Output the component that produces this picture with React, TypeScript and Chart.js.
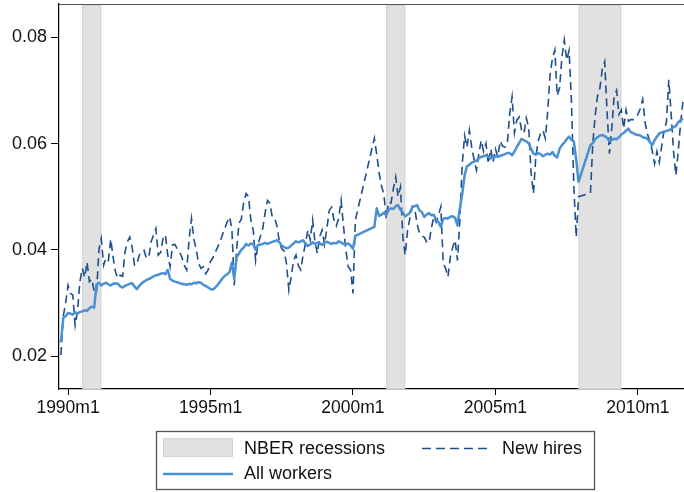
import { useEffect, useRef } from 'react';
import { Chart, registerables } from 'chart.js';

Chart.register(...registerables);

// Months are counted from 1990m1 (= 0); the series start in 1989m10.
const FIRST_MONTH = -3;

// Separation rate of newly hired workers, monthly (null = no observation)
const newHires: (number | null)[] = [
  0.0202, 0.0275, 0.0300,
  0.0333, 0.0318, 0.0315, 0.0258, 0.0285, 0.0340, 0.0365, 0.0348, 0.0377, 0.0340, 0.0345, 0.0322,
  0.0318, 0.0400, 0.0421, 0.0371, 0.0385, 0.0380, 0.0420, 0.0385, 0.0358, 0.0346, 0.0352, 0.0350,
  0.0396, 0.0415, 0.0424, 0.0405, 0.0371, 0.0373, 0.0390, 0.0395, 0.0399, 0.0384, 0.0386, 0.0415,
  0.0428, 0.0440, 0.0390, 0.0395, 0.0421, 0.0428, 0.0390, 0.0368, 0.0409, 0.0410, 0.0402, 0.0396,
  0.0385, 0.0370, 0.0362, 0.0420, 0.0459, 0.0420, 0.0400, 0.0374, 0.0365, 0.0368, 0.0355, 0.0362,
  0.0378, 0.0385, 0.0395, 0.0405, 0.0415, 0.0428, 0.0440, 0.0452, 0.0462, 0.0440, 0.0333, 0.0400,
  0.0450, 0.0458, 0.0490, 0.0506, 0.0500, 0.0456, 0.0437, 0.0380, 0.0410, 0.0425, 0.0440, 0.0470,
  0.0493, 0.0488, 0.0462, 0.0460, 0.0445, 0.0415, 0.0402, 0.0398, 0.0374, 0.0324, 0.0350, 0.0380,
  0.0390, 0.0370, 0.0362, 0.0390, 0.0412, 0.0437, 0.0418, 0.0456, 0.0415, 0.0393, 0.0425, 0.0437,
  0.0410, 0.0440, 0.0474, 0.0480, 0.0456, 0.0445, 0.0460, 0.0493, 0.0445, 0.0399, 0.0368, 0.0362,
  0.0318, 0.0456, null, null, null, null, null, null, null, 0.0610, 0.0580, 0.0545,
  0.0520, 0.0505, 0.0459, 0.0490, 0.0488, 0.0515, 0.0537, 0.0500, 0.0518, 0.0424, 0.0390, 0.0437,
  0.0460, 0.0482, 0.0478, 0.0449, 0.0431, 0.0426, 0.0424, 0.0415, 0.0413, 0.0440, 0.0462, 0.0452,
  0.0465, 0.0481, 0.0374, 0.0365, 0.0349, 0.0386, 0.0405, 0.0418, 0.0380, 0.0456, 0.0560, 0.0615,
  0.0593, 0.0625, 0.0593, 0.0570, 0.0550, 0.0580, 0.0606, 0.0585, 0.0600, 0.0562, 0.0590, 0.0565,
  0.0590, 0.0575, 0.0605, 0.0595, 0.0593, 0.0600, 0.0656, 0.0688, 0.0620, 0.0644, 0.0650, 0.0625,
  0.0619, 0.0648, 0.0630, 0.0545, 0.0506, 0.0575, 0.0605, 0.0619, 0.0625, 0.0610, 0.0660, 0.0730,
  0.0760, 0.0776, 0.0690, 0.0705, 0.0763, 0.0795, 0.0757, 0.0775, 0.0680, 0.0520, 0.0424, 0.0500,
  null, null, null, null, 0.0507, 0.0600, 0.0653, 0.0690, 0.0705, 0.0740, 0.0754, 0.0660,
  0.0581, 0.0630, 0.0690, 0.0700, 0.0655, 0.0663, 0.0628, 0.0663, 0.0642, 0.0645, 0.0645, 0.0648,
  0.0655, 0.0666, 0.0683, 0.0640, 0.0618, 0.0605, 0.0587, 0.0562, 0.0585, 0.0565, 0.0595, 0.0625,
  0.0640, 0.0720, 0.0655, 0.0585, 0.0540, 0.0587, 0.0640, 0.0680,
];

// Separation rate of all workers, monthly (null = no observation)
const allWorkers: (number | null)[] = [
  0.0225, 0.0272, 0.0275,
  0.0281, 0.0280, 0.0278, 0.0282, 0.0280, 0.0283, 0.0284, 0.0286, 0.0285, 0.0290, 0.0293, 0.0291,
  0.0335, 0.0338, 0.0333, 0.0336, 0.0338, 0.0335, 0.0333, 0.0336, 0.0337, 0.0336, 0.0331, 0.0329,
  0.0332, 0.0334, 0.0336, 0.0337, 0.0331, 0.0326, 0.0332, 0.0337, 0.0340, 0.0343, 0.0345, 0.0347,
  0.0350, 0.0352, 0.0353, 0.0355, 0.0356, 0.0354, 0.0362, 0.0345, 0.0342, 0.0340, 0.0339, 0.0337,
  0.0336, 0.0335, 0.0334, 0.0336, 0.0335, 0.0338, 0.0337, 0.0339, 0.0338, 0.0334, 0.0332, 0.0329,
  0.0326, 0.0325, 0.0329, 0.0334, 0.0340, 0.0346, 0.0351, 0.0354, 0.0358, 0.0376, 0.0345, 0.0386,
  0.0393, 0.0400, 0.0404, 0.0411, 0.0408, 0.0412, 0.0410, 0.0400, 0.0409, 0.0410, 0.0411, 0.0413,
  0.0411, 0.0413, 0.0415, 0.0416, 0.0418, 0.0414, 0.0408, 0.0405, 0.0403, 0.0404, 0.0408, 0.0412,
  0.0416, 0.0414, 0.0416, 0.0418, 0.0412, 0.0407, 0.0410, 0.0414, 0.0411, 0.0413, 0.0412, 0.0409,
  0.0414, 0.0415, 0.0413, 0.0411, 0.0413, 0.0412, 0.0416, 0.0414, 0.0411, 0.0410, 0.0412, 0.0408,
  0.0402, 0.0426, null, null, null, null, null, null, null, 0.0443, 0.0478, 0.0464,
  0.0466, 0.0470, 0.0465, 0.0475, 0.0478, 0.0477, 0.0482, 0.0484, 0.0475, 0.0470, 0.0463, 0.0466,
  0.0470, 0.0480, 0.0482, 0.0484, 0.0474, 0.0471, 0.0462, 0.0466, 0.0469, 0.0465, 0.0466, 0.0456,
  0.0452, 0.0443, 0.0458, 0.0460, 0.0459, 0.0462, 0.0463, 0.0460, 0.0446, 0.0478, 0.0505, 0.0540,
  0.0557, 0.0560, 0.0564, 0.0566, 0.0568, 0.0572, 0.0575, 0.0576, 0.0578, 0.0575, 0.0572, 0.0574,
  0.0576, 0.0575, 0.0577, 0.0578, 0.0580, 0.0582, 0.0582, 0.0578, 0.0585, 0.0594, 0.0601, 0.0609,
  0.0606, 0.0604, 0.0600, 0.0590, 0.0581, 0.0579, 0.0582, 0.0580, 0.0576, 0.0579, 0.0581, 0.0579,
  0.0584, 0.0577, 0.0574, 0.0590, 0.0597, 0.0602, 0.0608, 0.0613, 0.0607, 0.0604, 0.0570, 0.0528,
  null, null, null, null, 0.0597, 0.0601, 0.0608, 0.0612, 0.0615, 0.0616, 0.0614, 0.0611,
  0.0604, 0.0607, 0.0609, 0.0608, 0.0612, 0.0617, 0.0620, 0.0624, 0.0628, 0.0621, 0.0620, 0.0617,
  0.0616, 0.0615, 0.0612, 0.0611, 0.0609, 0.0603, 0.0597, 0.0606, 0.0613, 0.0619, 0.0621, 0.0622,
  0.0624, 0.0625, 0.0627, 0.0631, 0.0633, 0.0640, 0.0644, 0.0647,
];

// NBER recession periods, [first month, last month] counted from 1990m1
const recessions: [number, number][] = [
  [6, 14],    // 1990m7 - 1991m3
  [134, 142], // 2001m3 - 2001m11
  [215, 233], // 2007m12 - 2009m6
];

const xTickMonths = [0, 60, 120, 180, 240];
const xTickLabels = ['1990m1', '1995m1', '2000m1', '2005m1', '2010m1'];
const yTickValues = [0.02, 0.04, 0.06, 0.08];
const yTickLabels = ['0.02', '0.04', '0.06', '0.08'];

const legendLabels = ['NBER recessions', 'New hires', 'All workers'];

const FONT = '"Liberation Sans", Arial, sans-serif';
const SOLID_COLOR = '#4a90d2';
const DASH_COLOR = '#1d4f8c';
const SHADE_FILL = '#e1e1e1';
const SHADE_EDGE = '#d3d3d3';

const toPoints = (series: (number | null)[]) =>
  series.map((v, i) => ({ x: FIRST_MONTH + i, y: v }));

const recessionPlugin = {
  id: 'recessionShade',
  beforeDatasetsDraw(chart: any) {
    const { ctx, chartArea, scales } = chart;
    const xs = scales.x;
    ctx.save();
    recessions.forEach(([a, b]) => {
      const x1 = xs.getPixelForValue(a);
      const x2 = xs.getPixelForValue(b);
      ctx.fillStyle = SHADE_FILL;
      ctx.fillRect(x1, chartArea.top + 1, x2 - x1, chartArea.bottom - chartArea.top - 1);
      ctx.strokeStyle = SHADE_EDGE;
      ctx.lineWidth = 1;
      ctx.strokeRect(x1 + 0.5, chartArea.top + 1.5, x2 - x1 - 1, chartArea.bottom - chartArea.top - 2);
    });
    ctx.restore();
  },
  afterDraw(chart: any) {
    const { ctx, chartArea } = chart;
    ctx.save();
    // plot-region outline along the top
    ctx.strokeStyle = '#555';
    ctx.lineWidth = 1.2;
    ctx.beginPath();
    ctx.moveTo(chartArea.left, chartArea.top + 0.5);
    ctx.lineTo(chartArea.right, chartArea.top + 0.5);
    ctx.stroke();
    ctx.restore();
  },
};

const legendPlugin = {
  id: 'boxLegend',
  afterDraw(chart: any) {
    const { ctx } = chart;
    const box = { left: 156.5, top: 431.5, right: 594.5, bottom: 489.5 };
    ctx.save();
    ctx.fillStyle = '#fff';
    ctx.fillRect(box.left, box.top, box.right - box.left, box.bottom - box.top);
    ctx.strokeStyle = '#555';
    ctx.lineWidth = 1.3;
    ctx.strokeRect(box.left, box.top, box.right - box.left, box.bottom - box.top);

    // recession swatch
    ctx.fillStyle = SHADE_FILL;
    ctx.fillRect(163, 438, 70, 19);
    ctx.strokeStyle = SHADE_EDGE;
    ctx.lineWidth = 1;
    ctx.strokeRect(163.5, 438.5, 69, 18);

    // new hires swatch
    ctx.strokeStyle = DASH_COLOR;
    ctx.lineWidth = 1.6;
    ctx.setLineDash([9, 5]);
    ctx.beginPath();
    ctx.moveTo(422, 448.5);
    ctx.lineTo(491, 448.5);
    ctx.stroke();
    ctx.setLineDash([]);

    // all workers swatch
    ctx.strokeStyle = SOLID_COLOR;
    ctx.lineWidth = 2.6;
    ctx.beginPath();
    ctx.moveTo(163, 474);
    ctx.lineTo(233, 474);
    ctx.stroke();

    ctx.fillStyle = '#111';
    ctx.font = `18px ${FONT}`;
    ctx.textBaseline = 'middle';
    ctx.textAlign = 'left';
    ctx.fillText(legendLabels[0], 244, 449);
    ctx.fillText(legendLabels[1], 502, 449);
    ctx.fillText(legendLabels[2], 244, 474);
    ctx.restore();
  },
};

export default function App() {
  const canvasRef = useRef<HTMLCanvasElement | null>(null);

  useEffect(() => {
    const canvas = canvasRef.current;
    if (!canvas) return;
    const chart = new Chart(canvas, {
      type: 'line',
      data: {
        datasets: [
          {
            label: legendLabels[2],
            data: toPoints(allWorkers),
            borderColor: SOLID_COLOR,
            borderWidth: 2.5,
            pointRadius: 0,
            tension: 0,
            spanGaps: true,
            borderJoinStyle: 'round',
          },
          {
            label: legendLabels[1],
            data: toPoints(newHires),
            borderColor: DASH_COLOR,
            borderWidth: 1.6,
            borderDash: [8, 5],
            pointRadius: 0,
            tension: 0,
            spanGaps: true,
          },
        ],
      },
      options: {
        responsive: false,
        animation: false,
        devicePixelRatio: 1,
        layout: { padding: { top: 4, left: 0, right: 0, bottom: 0 } },
        plugins: {
          legend: { display: false },
          tooltip: { enabled: false },
        },
        scales: {
          x: {
            type: 'linear',
            min: -3.8,
            max: 259.4,
            border: { display: true, color: '#000', width: 1.2 },
            grid: { display: true, drawOnChartArea: false, tickLength: 6, color: '#000', lineWidth: 1 },
            ticks: {
              autoSkip: false,
              maxRotation: 0,
              padding: 3,
              color: '#111',
              font: { family: FONT, size: 17.5 },
              callback: (value: any) => {
                const i = xTickMonths.indexOf(Number(value));
                return i >= 0 ? xTickLabels[i] : '';
              },
            },
            afterBuildTicks: (scale: any) => {
              scale.ticks = xTickMonths.map((v) => ({ value: v }));
            },
            afterFit: (scale: any) => {
              scale.height = 103;
              scale.paddingLeft = 0;
              scale.paddingRight = 0;
            },
          },
          y: {
            type: 'linear',
            min: 0.01379,
            max: 0.08627,
            border: { display: true, color: '#000', width: 1.2 },
            grid: { display: true, drawOnChartArea: false, tickLength: 8, color: '#000', lineWidth: 1 },
            ticks: {
              padding: 4,
              color: '#111',
              font: { family: FONT, size: 18 },
              callback: (value: any) => {
                const i = yTickValues.findIndex((v) => Math.abs(v - Number(value)) < 1e-9);
                return i >= 0 ? yTickLabels[i] : '';
              },
            },
            afterBuildTicks: (scale: any) => {
              scale.ticks = yTickValues.map((v) => ({ value: v }));
            },
            afterFit: (scale: any) => {
              scale.width = 59;
              scale.paddingTop = 0;
              scale.paddingBottom = 0;
            },
          },
        },
      },
      plugins: [recessionPlugin, legendPlugin],
    });
    return () => chart.destroy();
  }, []);

  return (
    <div style={{ position: 'fixed', left: 0, top: 0, width: 684, height: 492, background: '#fff' }}>
      <canvas ref={canvasRef} width={684} height={492} />
    </div>
  );
}
